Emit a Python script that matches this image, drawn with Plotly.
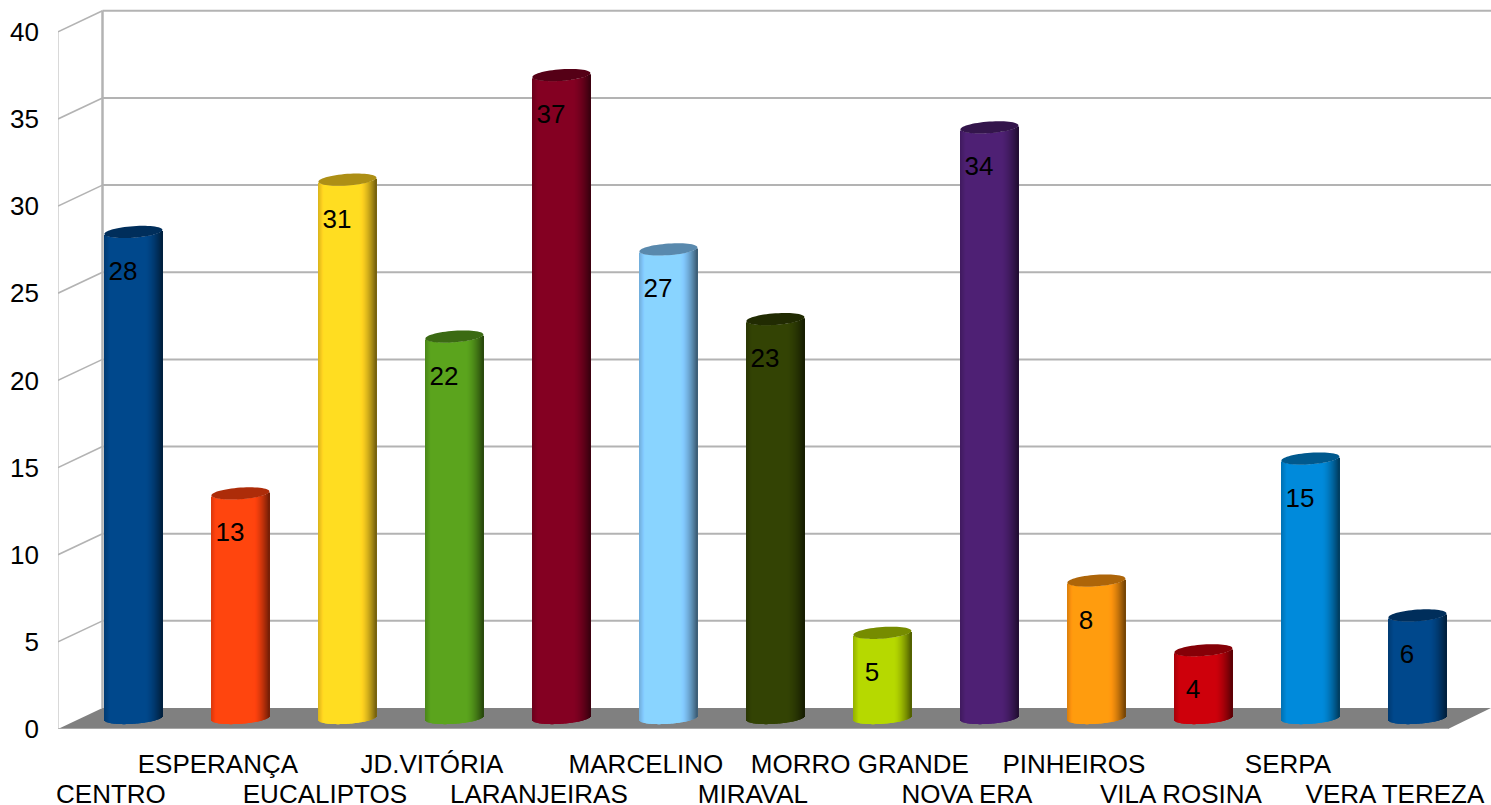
import math
import plotly.graph_objects as go

categories = ["CENTRO", "ESPERANÇA", "EUCALIPTOS", "JD.VITÓRIA", "LARANJEIRAS", "MARCELINO", "MIRAVAL",
              "MORRO GRANDE", "NOVA ERA", "PINHEIROS", "VILA ROSINA", "SERPA", "VERA TEREZA"]
values = [28, 13, 31, 22, 37, 27, 23, 5, 34, 8, 4, 15, 6]
colors = ["#004586", "#ff420e", "#ffd320", "#579d1c", "#7e0021", "#83caff", "#314004",
          "#aecf00", "#4b1f6f", "#ff950e", "#c5000b", "#0084d1", "#004586"]
y_ticks = [0, 5, 10, 15, 20, 25, 30, 35, 40]

# pixel geometry of the pseudo-3D frame
W, H = 1491, 805
LEFT, BOTTOM_PX = 58, 729
K = 17.43            # px per value unit
STEP = 107.0         # px per category
C0 = 133.4           # px of first bar centre
DX, DY = 44.5, 21.0  # wall depth
RX = 29.0            # cylinder half width
RY = 5.8             # cylinder ellipse half height
TILT = 2.0
BASE_PX = 11.0       # bar base above the front floor line
TOP_DROP = 2.0       # cylinder top sits slightly under the value line


def xd(px):
    return (px - C0) / STEP


def yd(px_up):
    return px_up / K


def shade(hex_color, f):
    r, g, b = (int(hex_color[i:i + 2], 16) for i in (1, 3, 5))
    return "rgb(%d,%d,%d)" % (min(255, r * f), min(255, g * f), min(255, b * f))


def gradient(o):
    if o < -0.8:
        return 0.85 + 0.2 * (o + 1) / 0.2
    if o < 0.4:
        return 1.05
    return 1.05 - 0.6 * ((o - 0.4) / 0.6) ** 1.6


GRID = "#b3b3b3"
x_left, x_right = xd(LEFT), xd(W)
shapes = []
floor_y = yd(DY)
shapes.append(dict(type="path", layer="below", xref="x", yref="y", line=dict(width=0), fillcolor="#808080",
                   path=f"M{xd(LEFT)},0 L{xd(LEFT + DX)},{floor_y} L{xd(W)},{floor_y} L{xd(1448)},0 Z"))
for t in y_ticks:
    if t > 0:
        shapes.append(dict(type="line", layer="below", xref="x", yref="y", x0=xd(LEFT + DX), x1=xd(W),
                           y0=t + yd(DY), y1=t + yd(DY), line=dict(color=GRID, width=2)))
        shapes.append(dict(type="line", layer="below", xref="x", yref="y", x0=xd(LEFT), x1=xd(LEFT + DX),
                           y0=t, y1=t + yd(DY), line=dict(color=GRID, width=1.6)))
shapes.append(dict(type="line", layer="below", xref="x", yref="y", x0=xd(LEFT), x1=xd(LEFT),
                   y0=0, y1=40, line=dict(color=GRID, width=1)))
shapes.append(dict(type="line", layer="below", xref="x", yref="y", x0=xd(LEFT + DX), x1=xd(LEFT + DX),
                   y0=yd(DY), y1=40 + yd(DY), line=dict(color=GRID, width=2.5)))
shapes.append(dict(type="line", layer="below", xref="x", yref="y", x0=xd(LEFT), x1=xd(1448),
                   y0=0, y1=0, line=dict(color=GRID, width=1.5)))

fig = go.Figure()
base_u = yd(BASE_PX)
N = 58
idx = list(range(len(values)))
for s in range(N):
    o = -1 + (2 * s + 1) / N
    root = math.sqrt(max(0.0, 1 - o * o))
    edge = yd(-RY * root + TILT * o)
    bases = [base_u + edge for _ in values]
    heights = [v - yd(TOP_DROP) for v in values]
    fig.add_trace(go.Bar(
        x=idx, y=heights, base=bases,
        width=1.7 / STEP, offset=(o * RX - 0.85) / STEP,
        marker=dict(color=[shade(c, gradient(o)) for c in colors], line=dict(width=0)),
        hoverinfo="skip", showlegend=False))

# cylinder tops
for i, (v, c) in enumerate(zip(values, colors)):
    pts = []
    for a in range(0, 360, 6):
        o, q = math.cos(math.radians(a)), math.sin(math.radians(a))
        pts.append((i + o * RX / STEP, base_u + v - yd(TOP_DROP) + yd(RY * q + TILT * o)))
    path = "M" + " L".join(f"{x:.4f},{y:.4f}" for x, y in pts) + " Z"
    shapes.append(dict(type="path", xref="x", yref="y", path=path, line=dict(width=0),
                       fillcolor=shade(c, 0.68)))

# value labels
fig.add_trace(go.Scatter(
    x=[i - 10.4 / STEP for i in idx], y=[v + base_u - yd(43.5) for v in values],
    mode="text", text=[str(v) for v in values], textposition="middle center",
    textfont=dict(family="Liberation Sans", size=26, color="#000000"),
    hoverinfo="skip", showlegend=False))

# second axis carries the lower row of category labels
tick_x = [i - 22.5 / STEP for i in idx]
fig.add_trace(go.Scatter(x=tick_x[::2], y=[0] * len(tick_x[::2]), xaxis="x2", mode="markers",
                         marker=dict(opacity=0), hoverinfo="skip", showlegend=False))

tick_font = dict(family="Liberation Sans", size=26, color="#000000")
fig.update_layout(
    width=W, height=H,
    autosize=False,
    barmode="overlay",
    paper_bgcolor="#ffffff", plot_bgcolor="#ffffff",
    margin=dict(l=LEFT, r=0, t=0, b=H - BOTTOM_PX, autoexpand=False),
    shapes=shapes,
    xaxis=dict(range=[x_left, x_right], tickmode="array", tickvals=tick_x[1::2], ticktext=categories[1::2],
               showgrid=False, zeroline=False, showline=False, ticks="", tickangle=0, tickfont=tick_font,
               ticklabelstandoff=17, ticklabeloverflow="allow"),
    xaxis2=dict(range=[x_left, x_right], overlaying="x", side="bottom", anchor="y", tickmode="array",
                tickvals=tick_x[::2], ticktext=categories[::2], showgrid=False, zeroline=False,
                showline=False, ticks="", tickangle=0, tickfont=tick_font, ticklabelstandoff=47,
                ticklabeloverflow="allow"),
    yaxis=dict(range=[0, BOTTOM_PX / K], tickmode="array", tickvals=y_ticks, showgrid=False, zeroline=False,
               showline=False, ticks="", tickfont=tick_font, ticklabelstandoff=18),
)
fig.write_html("out.html", config={"displayModeBar": False},
               post_script="document.body.style.margin='0';document.documentElement.style.overflow='hidden';")
